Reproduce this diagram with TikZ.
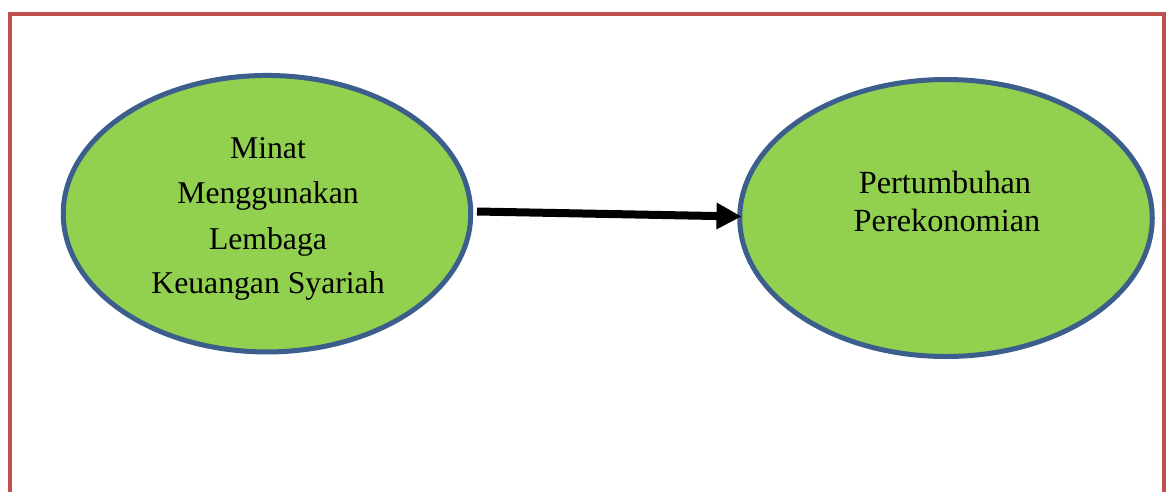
\documentclass[tikz,border=0pt]{standalone}
\usepackage{fontspec}
\setmainfont{Liberation Serif}
\usetikzlibrary{shapes.geometric,arrows.meta}
\definecolor{framered}{HTML}{C0504D}
\definecolor{ellgreen}{HTML}{92D050}
\definecolor{ellblue}{HTML}{3B5E8C}
\tikzset{
  ell/.style={ellipse, draw=ellblue, fill=ellgreen, line width=5pt, inner sep=0pt},
  lbl/.style={inner sep=0pt, anchor=base, font=\fontsize{31.7}{37}\selectfont},
  lblr/.style={inner sep=0pt, anchor=base, font=\fontsize{32.3}{37}\selectfont},
  conn/.style={line width=8pt, -{Triangle[length=25pt,width=25pt]}},
  frame/.style={draw=framered, line width=4.8pt}
}
\begin{document}
\begin{tikzpicture}[x=1pt,y=-1pt]
\useasboundingbox (0,0) rectangle (1170,491);
\fill[white] (0,0) rectangle (1170,491);
\draw[frame] (10,495) -- (10,14) -- (1164,14) -- (1164,495);
\node[ell, minimum width=407.5pt, minimum height=276.5pt] (a) at (267,213.7) {};
\node[ell, minimum width=412.5pt, minimum height=277pt] (b) at (946,218) {};
\node[lbl] (a1) at (268,158) {Minat};
\node[lbl] (a2) at (268,203) {Menggunakan};
\node[lbl] (a3) at (268,249) {Lembaga};
\node[lbl] (a4) at (268,293) {Keuangan Syariah};
\node[lblr] (b1) at (945,193) {Pertumbuhan};
\node[lblr] (b2) at (947,231) {Perekonomian};
\coordinate (s) at (477,211.5);
\coordinate (t) at (741.5,216.5);
\draw[conn] (s) -- (t);
\end{tikzpicture}
\end{document}
